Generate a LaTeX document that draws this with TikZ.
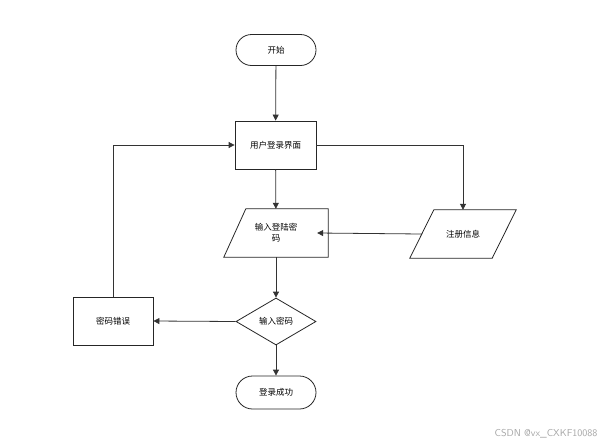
\documentclass[tikz,border=0pt]{standalone}
\usepackage{fontspec}
\newfontfamily\cjk{Noto Sans CJK SC}
\usetikzlibrary{shapes.geometric,arrows.meta}
\begin{document}
\begin{tikzpicture}[x=1pt,y=-1pt,
  base/.style={font=\cjk\fontsize{8.5}{11}\selectfont, inner sep=0pt, align=center},
  term/.style={base, draw=black!85, line width=0.8pt, rounded corners=15.5pt, minimum width=80pt, minimum height=31pt},
  procbox/.style={base, draw=black!85, line width=0.8pt, minimum width=81pt, minimum height=48pt},
  iobox/.style={base, minimum width=82pt, minimum height=48pt},
  decide/.style={base, draw=black!85, line width=0.8pt, diamond, minimum width=80pt, minimum height=47pt, aspect=1.7},
  conn/.style={draw=black!80, line width=0.8pt, -{Triangle[length=6pt,width=6pt]}},
  shapeline/.style={draw=black!85, line width=0.8pt}
]
\useasboundingbox (0,0) rectangle (610,445);
\fill[white] (0,0) rectangle (610,445);

\node[term] (start) at (276,50) {开始};
\node[procbox] (login) at (275.5,145) {用户登录界面};
\node[iobox] (inpw) at (276,233) {输入登陆密\\码};
\draw[shapeline] ([xshift=11pt]inpw.south east) -- ([xshift=-11pt]inpw.south west)
  -- ([xshift=11pt]inpw.north west) -- ([xshift=11pt]inpw.north east) -- cycle;
\node[iobox] (reg) at (463,234) {注册信息};
\draw[shapeline] ([xshift=-12pt]reg.south west) -- ([xshift=-12pt]reg.south east)
  -- ([xshift=12pt]reg.north east) -- ([xshift=12pt]reg.north west) -- cycle;
\node[decide] (check) at (276,321.5) {输入密码};
\node[procbox, minimum width=80pt] (err) at (113,321) {密码错误};
\node[term, minimum height=33pt, rounded corners=16.5pt] (ok) at (276,392.5) {登录成功};

\coordinate (c1) at (463,145);
\coordinate (c2) at (113,145);

\draw[conn] (start) -- (login);
\draw[conn] (login) -- (inpw);
\draw[conn] (login.east) -- (c1) -- (reg.north);
\draw[conn] (reg.west) -- (inpw.east);
\draw[conn] (inpw) -- (check);
\draw[conn] (check.west) -- (err.east);
\draw[conn] (check) -- (ok);
\draw[conn] (err.north) -- (c2) -- (login.west);

\node[font=\fontsize{10}{12}\selectfont\sffamily, text=black!35, anchor=east] (wm) at (601,434) {CSDN @vx\_CXKF10088};
\end{tikzpicture}
\end{document}
